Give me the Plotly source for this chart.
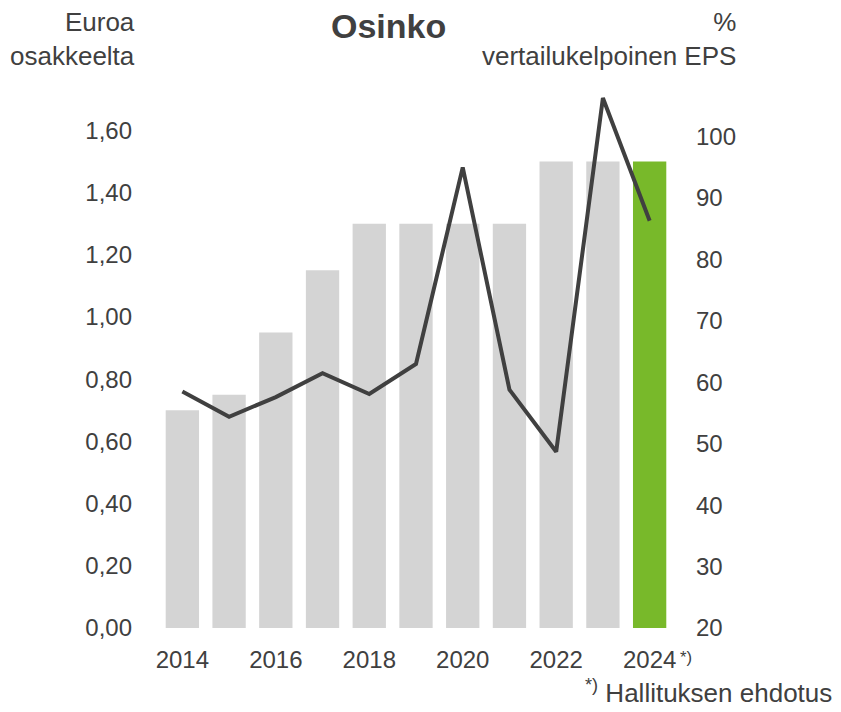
import plotly.graph_objects as go

years = [2014, 2015, 2016, 2017, 2018, 2019, 2020, 2021, 2022, 2023, 2024]
dividend = [0.70, 0.75, 0.95, 1.15, 1.30, 1.30, 1.30, 1.30, 1.50, 1.50, 1.50]
payout_pct = [58.5, 54.4, 57.6, 61.5, 58.1, 63.0, 95.0, 58.8, 48.7, 106.3, 86.3]
left_ticks = [0, 0.2, 0.4, 0.6, 0.8, 1.0, 1.2, 1.4, 1.6]
right_ticks = [20, 30, 40, 50, 60, 70, 80, 90, 100]
x_ticks = [2014, 2016, 2018, 2020, 2022, 2024]

GREY = "#d4d4d4"
GREEN = "#78b92a"
TXT = "#404040"
FONT = "Liberation Sans, Arial, sans-serif"

bar_colors = [GREY] * (len(years) - 1) + [GREEN]

# page body has an 8px margin, so figure is drawn at (8, 8)
OFF = 8
W, Hh = 841 - OFF, 712 - OFF
l, r, t, b = 159 - OFF, 168, 90 - OFF, 84
pw, ph = W - l - r, Hh - t - b


def px(x):
    return (x - OFF - l) / pw


def py(y):
    return (Hh - b - (y - OFF)) / ph


fig = go.Figure()
fig.add_trace(go.Bar(x=years, y=dividend, marker=dict(color=bar_colors, line=dict(width=0)),
                     yaxis="y", showlegend=False, hoverinfo="skip"))
fig.add_trace(go.Scatter(x=years, y=payout_pct, mode="lines", line=dict(color=TXT, width=4),
                         yaxis="y2", showlegend=False, hoverinfo="skip"))

ann_font = dict(size=26, color=TXT, family=FONT)
fig.update_layout(
    width=W, height=Hh,
    margin=dict(l=l, r=r, t=t, b=b, autoexpand=False),
    paper_bgcolor="white", plot_bgcolor="white",
    font=dict(family=FONT, size=24, color=TXT),
    separators=", ",
    bargap=0.287,
    xaxis=dict(range=[2013.5, 2024.5], tickvals=x_ticks, ticktext=[str(v) for v in x_ticks],
               showgrid=False, zeroline=False, showline=False, ticks="", ticklabelstandoff=15),
    yaxis=dict(range=[0, 1.730], tickvals=left_ticks, tickformat=".2f", showgrid=False,
               zeroline=False, showline=False, ticks="", ticklabelstandoff=26),
    yaxis2=dict(range=[20, 107.6], tickvals=right_ticks, overlaying="y", side="right",
                showgrid=False, zeroline=False, showline=False, ticks="", ticklabelstandoff=22),
    annotations=[
        dict(text="<b>Osinko</b>", x=px(388), y=py(26), xref="paper", yref="paper",
             xanchor="center", yanchor="middle", showarrow=False,
             font=dict(size=34, color=TXT, family=FONT)),
        dict(text="Euroa<br>osakkeelta", x=px(137), y=py(39), xref="paper", yref="paper",
             xanchor="right", yanchor="middle", align="right", showarrow=False, font=ann_font),
        dict(text="%<br>vertailukelpoinen EPS", x=px(738), y=py(39), xref="paper", yref="paper",
             xanchor="right", yanchor="middle", align="right", showarrow=False, font=ann_font),
        dict(text="<sup>*)</sup>", x=px(678), y=py(657), xref="paper", yref="paper",
             xanchor="left", yanchor="middle", showarrow=False,
             font=dict(size=24, color=TXT, family=FONT)),
        dict(text="<sup>*)</sup> Hallituksen ehdotus", x=px(834), y=py(691), xref="paper",
             yref="paper", xanchor="right", yanchor="middle", align="right", showarrow=False,
             font=ann_font),
    ],
)

fig.write_html("out.html")
